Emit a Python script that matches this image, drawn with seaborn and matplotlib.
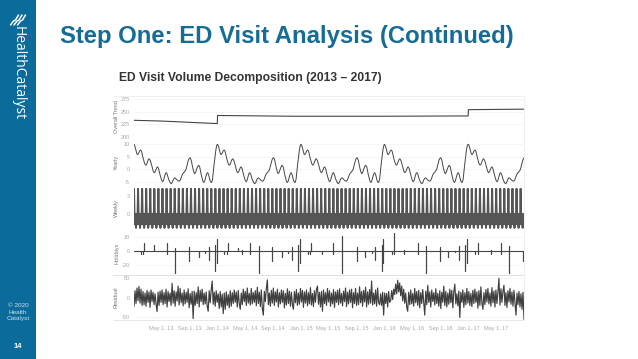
#!/usr/bin/env python3
# -*- coding: utf-8 -*-
import pandas as pd
import seaborn as sns
import matplotlib.pyplot as plt
from matplotlib.patches import Rectangle
from matplotlib.lines import Line2D

#%%
# Data. Days are counted from Jan 1 2013
trend_days = [0, 120, 364, 365, 700, 1094, 1460, 1461, 1704]
trend_vals = [233, 231.5, 226.5, 242.5, 241, 241, 241.6, 254, 255]

# days inside one year of the yearly curve, and where each year starts
year_days = [0, 4, 9, 13, 16, 20, 25, 29, 33, 40, 47, 51, 55, 60, 64, 67, 71, 78, 84, 88, 92, 97, 100, 103, 107,
             114, 121, 125, 129, 134, 138, 141, 145, 152, 159, 163, 167, 172, 177, 180, 185, 192, 198, 203, 208,
             213, 220, 227, 232, 238, 243, 246, 250, 257, 262, 265, 269, 275, 280, 283, 287, 294, 301, 305, 309,
             315, 319, 322, 326, 332, 336, 339, 343, 350, 358, 362]
year_starts = [0, 365, 730, 1095, 1461]
yearly_vals = [
    10.0, 9.2, 7.4, 6.1, 5.9, 6.4, 7.4, 7.7, 7.2, 4.4, 2.2, 1.7, 2.0, 3.3, 4.1, 4.2, 3.6, 1.4, -0.7, -1.3, -1.0, 0.1, 0.8, 1.0, 0.4,
    -2.2, -4.4, -4.9, -4.4, -2.6, -1.5, -1.3, -1.9, -4.1, -5.4, -5.7, -5.2, -4.0, -3.4, -3.4, -3.9, -4.5, -4.7, -4.1, -2.8,
    -1.7, -1.0, -0.1, 1.6, 3.8, 4.6, 4.6, 3.6, 0.5, -1.2, -1.7, -1.2, 0.4, 1.5, 1.6, 1.0, -2.2, -4.7, -5.2, -4.6,
    -2.5, -1.5, -1.3, -2.1, -4.4, -5.1, -5.2, -4.0, 2.0, 8.0, 9.7,
    10.0, 9.2, 7.4, 6.1, 5.9, 6.4, 7.4, 7.7, 7.2, 4.4, 2.2, 1.7, 2.0, 3.3, 4.1, 4.2, 3.6, 1.4, -0.7, -1.3, -1.0, 0.1, 0.8, 1.0, 0.4,
    -2.2, -4.4, -4.9, -4.4, -2.6, -1.5, -1.3, -1.9, -4.1, -5.4, -5.7, -5.2, -4.0, -3.4, -3.4, -3.9, -4.5, -4.7, -4.1, -2.8,
    -1.7, -1.0, -0.1, 1.6, 3.8, 4.6, 4.6, 3.6, 0.5, -1.2, -1.7, -1.2, 0.4, 1.5, 1.6, 1.0, -2.2, -4.7, -5.2, -4.6,
    -2.5, -1.5, -1.3, -2.1, -4.4, -5.1, -5.2, -4.0, 2.0, 8.0, 9.7,
    10.0, 9.2, 7.4, 6.1, 5.9, 6.4, 7.4, 7.7, 7.2, 4.4, 2.2, 1.7, 2.0, 3.3, 4.1, 4.2, 3.6, 1.4, -0.7, -1.3, -1.0, 0.1, 0.8, 1.0, 0.4,
    -2.2, -4.4, -4.9, -4.4, -2.6, -1.5, -1.3, -1.9, -4.1, -5.4, -5.7, -5.2, -4.0, -3.4, -3.4, -3.9, -4.5, -4.7, -4.1, -2.8,
    -1.7, -1.0, -0.1, 1.6, 3.8, 4.6, 4.6, 3.6, 0.5, -1.2, -1.7, -1.2, 0.4, 1.5, 1.6, 1.0, -2.2, -4.7, -5.2, -4.6,
    -2.5, -1.5, -1.3, -2.1, -4.4, -5.1, -5.2, -4.0, 2.0, 8.0, 9.7,
    10.0, 9.2, 7.4, 6.1, 5.9, 6.4, 7.4, 7.7, 7.2, 4.4, 2.2, 1.7, 2.0, 3.3, 4.1, 4.2, 3.6, 1.4, -0.7, -1.3, -1.0, 0.1, 0.8, 1.0, 0.4,
    -2.2, -4.4, -4.9, -4.4, -2.6, -1.5, -1.3, -1.9, -4.1, -5.4, -5.7, -5.2, -4.0, -3.4, -3.4, -3.9, -4.5, -4.7, -4.1, -2.8,
    -1.7, -1.0, -0.1, 1.6, 3.8, 4.6, 4.6, 3.6, 0.5, -1.2, -1.7, -1.2, 0.4, 1.5, 1.6, 1.0, -2.2, -4.7, -5.2, -4.6,
    -2.5, -1.5, -1.3, -2.1, -4.4, -5.1, -5.2, -4.0, 2.0, 8.0, 9.7,
    10.0, 9.2, 7.4, 6.1, 5.9, 6.4, 7.4, 7.7, 7.2, 4.4, 2.2, 1.7, 2.0, 3.3, 4.1, 4.2, 3.6, 1.4, -0.7, -1.3, -1.0, 0.1, 0.8, 1.0, 0.4,
    -2.2, -4.4, -4.9, -4.4, -2.6, -1.5, -1.3, -1.9, -4.1, -5.4, -5.7, -5.2, -4.0, -3.4, -3.4, -3.9, -4.5, -4.7, -4.1, -2.8,
    -1.7, -1.0, -0.1, 1.6, 3.8, 4.6,
]

# as many stripes as can be counted in the picture
weekly_vals = [
    4.2, -1.7, 0.0, -2.3, 0.0, -1.7, 4.2, -1.7, 0.0, -2.3, 0.0, -1.7, 4.2, -1.7, 0.0, -2.3, 0.0, -1.7, 4.2, -1.7, 0.0, -2.3, 0.0, -1.7,
    4.2, -1.7, 0.0, -2.3, 0.0, -1.7, 4.2, -1.7, 0.0, -2.3, 0.0, -1.7, 4.2, -1.7, 0.0, -2.3, 0.0, -1.7, 4.2, -1.7, 0.0, -2.3, 0.0, -1.7,
    4.2, -1.7, 0.0, -2.3, 0.0, -1.7, 4.2, -1.7, 0.0, -2.3, 0.0, -1.7, 4.2, -1.7, 0.0, -2.3, 0.0, -1.7, 4.2, -1.7, 0.0, -2.3, 0.0, -1.7,
    4.2, -1.7, 0.0, -2.3, 0.0, -1.7, 4.2, -1.7, 0.0, -2.3, 0.0, -1.7, 4.2, -1.7, 0.0, -2.3, 0.0, -1.7, 4.2, -1.7, 0.0, -2.3, 0.0, -1.7,
    4.2, -1.7, 0.0, -2.3, 0.0, -1.7, 4.2, -1.7, 0.0, -2.3, 0.0, -1.7, 4.2, -1.7, 0.0, -2.3, 0.0, -1.7, 4.2, -1.7, 0.0, -2.3, 0.0, -1.7,
    4.2, -1.7, 0.0, -2.3, 0.0, -1.7, 4.2, -1.7, 0.0, -2.3, 0.0, -1.7, 4.2, -1.7, 0.0, -2.3, 0.0, -1.7, 4.2, -1.7, 0.0, -2.3, 0.0, -1.7,
    4.2, -1.7, 0.0, -2.3, 0.0, -1.7, 4.2, -1.7, 0.0, -2.3, 0.0, -1.7, 4.2, -1.7, 0.0, -2.3, 0.0, -1.7, 4.2, -1.7, 0.0, -2.3, 0.0, -1.7,
    4.2, -1.7, 0.0, -2.3, 0.0, -1.7, 4.2, -1.7, 0.0, -2.3, 0.0, -1.7, 4.2, -1.7, 0.0, -2.3, 0.0, -1.7, 4.2, -1.7, 0.0, -2.3, 0.0, -1.7,
    4.2, -1.7, 0.0, -2.3, 0.0, -1.7, 4.2, -1.7, 0.0, -2.3, 0.0, -1.7, 4.2, -1.7, 0.0, -2.3, 0.0, -1.7, 4.2, -1.7, 0.0, -2.3, 0.0, -1.7,
    4.2, -1.7, 0.0, -2.3, 0.0, -1.7, 4.2, -1.7, 0.0, -2.3, 0.0, -1.7, 4.2, -1.7, 0.0, -2.3, 0.0, -1.7, 4.2, -1.7, 0.0, -2.3, 0.0, -1.7,
    4.2, -1.7, 0.0, -2.3, 0.0, -1.7, 4.2, -1.7, 0.0, -2.3, 0.0, -1.7, 4.2, -1.7, 0.0, -2.3, 0.0, -1.7, 4.2, -1.7, 0.0, -2.3, 0.0, -1.7,
    4.2, -1.7, 0.0, -2.3, 0.0, -1.7, 4.2, -1.7, 0.0, -2.3, 0.0, -1.7, 4.2, -1.7, 0.0, -2.3, 0.0, -1.7, 4.2, -1.7, 0.0, -2.3, 0.0, -1.7,
    4.2, -1.7, 0.0, -2.3, 0.0, -1.7, 4.2, -1.7, 0.0, -2.3, 0.0, -1.7, 4.2, -1.7, 0.0, -2.3, 0.0, -1.7, 4.2, -1.7, 0.0, -2.3, 0.0, -1.7,
    4.2, -1.7, 0.0, -2.3, 0.0, -1.7, 4.2, -1.7, 0.0, -2.3, 0.0, -1.7, 4.2, -1.7, 0.0, -2.3, 0.0, -1.7, 4.2, -1.7, 0.0, -2.3, 0.0, -1.7,
    4.2, -1.7, 0.0, -2.3, 0.0, -1.7, 4.2, -1.7, 0.0, -2.3, 0.0, -1.7, 4.2, -1.7, 0.0, -2.3, 0.0, -1.7, 4.2, -1.7, 0.0, -2.3, 0.0, -1.7,
    4.2, -1.7, 0.0, -2.3, 0.0, -1.7, 4.2, -1.7, 0.0, -2.3, 0.0, -1.7, 4.2, -1.7, 0.0, -2.3, 0.0, -1.7, 4.2, -1.7, 0.0, -2.3, 0.0, -1.7,
    4.2, -1.7, 0.0, -2.3, 0.0, -1.7, 4.2, -1.7, 0.0, -2.3, 0.0, -1.7, 4.2, -1.7, 0.0, -2.3, 0.0, -1.7, 4.2, -1.7, 0.0, -2.3, 0.0, -1.7,
    4.2, -1.7, 0.0, -2.3, 0.0, -1.7, 4.2, -1.7, 0.0, -2.3, 0.0, -1.7, 4.2, -1.7, 0.0, -2.3, 0.0, -1.7, 4.2, -1.7, 0.0, -2.3, 0.0, -1.7,
    4.2, -1.7, 0.0, -2.3, 0.0, -1.7, 4.2, -1.7, 0.0, -2.3, 0.0, -1.7, 4.2, -1.7, 0.0, -2.3, 0.0, -1.7, 4.2, -1.7, 0.0, -2.3, 0.0, -1.7,
    4.2, -1.7, 0.0, -2.3, 0.0, -1.7, 4.2, -1.7, 0.0, -2.3, 0.0, -1.7, 4.2, -1.7, 0.0, -2.3, 0.0, -1.7, 4.2, -1.7, 0.0, -2.3, 0.0, -1.7,
    4.2, -1.7, 0.0, -2.3, 0.0, -1.7, 4.2, -1.7, 0.0, -2.3, 0.0, -1.7, 4.2, -1.7, 0.0, -2.3, 0.0, -1.7, 4.2, -1.7, 0.0, -2.3, 0.0, -1.7,
    4.2, -1.7, 0.0, -2.3, 0.0, -1.7, 4.2, -1.7, 0.0, -2.3, 0.0, -1.7, 4.2, -1.7, 0.0, -2.3, 0.0, -1.7, 4.2, -1.7, 0.0, -2.3, 0.0, -1.7,
    4.2, -1.7, 0.0, -2.3, 0.0, -1.7, 4.2, -1.7, 0.0, -2.3, 0.0, -1.7, 4.2, -1.7, 0.0, -2.3, 0.0, -1.7, 4.2, -1.7, 0.0, -2.3, 0.0, -1.7,
    4.2, -1.7, 0.0, -2.3, 0.0, -1.7, 4.2, -1.7, 0.0, -2.3, 0.0, -1.7, 4.2, -1.7, 0.0, -2.3, 0.0, -1.7, 4.2, -1.7, 0.0, -2.3, 0.0, -1.7,
]

holiday_days = [32, 38, 45, 89, 144, 180, 241, 283, 311, 329, 355, 362, 395, 407, 410, 454, 471, 507, 547, 605,
                647, 675, 690, 718, 725, 759, 770, 773, 821, 869, 910, 975, 1010, 1039, 1055, 1083, 1090, 1128, 1135, 1178,
                1242, 1275, 1336, 1339, 1374, 1404, 1419, 1448, 1455, 1489, 1503, 1505, 1561, 1603, 1640, 1698]
holiday_high = [0, 0, 11, 9, 12, 5, 6, 0, 0, 6, 9, 17, 0, 0, 11, 5, 2, 12, 7, 6,
                0, 0, 6, 9, 17, 0, 0, 11, 0, 11, 21, 6, 0, 0, 6, 9, 17, 0, 26, 2,
                11, 7, 0, 6, 0, 0, 7, 9, 17, 0, 0, 11, 2, 11, 7, 0]
holiday_low = [-5, -5, 0, 0, -4, -32, -14, -8, -3, -13, -29, -18, -5, -5, 0, 0, -5, -4, -32, -14,
               -8, -3, -13, -29, -17, -5, -5, 0, -5, -4, -32, -14, -8, -3, -13, -29, -17, -4, -4, -4,
               -4, -32, -14, 0, -8, -2, -13, -29, -17, -4, -4, 0, -4, -4, -32, -14]

residual_vals = [
    -23, 18, -15, 25, -8, 29, -14, 22, -20, 16, -18, 12, -22, 19, -12, 15, -25, 20, -10, 14,
    -18, 10, -16, -36, 14, -20, 17, -12, 20, -18, 13, -15, 22, -24, 16, -10, 12, -20, 37, -14,
    18, -22, 15, -9, 30, -19, 24, -13, 12, -21, 20, -16, 14, -12, 23, -26, 11, -17, 16, -54,
    17, -20, 13, -15, 28, -24, 19, -10, 22, -18, 12, -16, 15, -22, -35, 18, -13, 20, 43, -17,
    14, -22, 18, -12, 10, -28, 16, -24, 9, -41, 12, -30, 15, -20, 8, -26, 18, -22, 13, -15,
    20, -12, 15, -24, 19, -16, -30, 12, -18, 22, -10, 16, -20, 25, -14, 11, -19, 24, -16, 13,
    -12, 18, -21, 27, -15, 14, -23, 20, -28, -45, 16, -10, 24, 46, -18, 12, -22, 19, -14, 25,
    -20, 15, -11, 22, -24, 13, -16, 20, -12, 18, -26, 11, -19, 23, -15, 17, -22, 14, -18, -30,
    16, -13, 21, -20, 12, -17, 24, -11, 19, -25, 15, -14, 20, -21, 13, -16, 26, -19, 11, -23,
    18, -12, 22, 30, -17, 14, -24, 16, -35, 20, -15, 13, -20, 24, -11, 18, -22, 12, -16, 21,
    -25, 15, -12, 19, -18, 23, -14, 11, -21, 17, -10, 25, -23, 14, -16, 20, -12, 22, -26, 13,
    -15, 24, -20, 12, -18, 28, -13, 16, -22, 19, -11, 27, -24, 15, -17, 21, -14, 43, -19, 12,
    -16, 20, -22, 25, -13, -18, 10, -20, 14, -45, 12, -15, 11, -24, 16, -12, -8, 18, -5, 22,
    8, 35, 10, 45, 15, 38, 5, 30, -8, 22, -14, 12, -25, -35, 14, -18, 20, -16, 11, -22,
    24, -13, 16, -20, 19, -26, 13, -15, 21, -11, -45, 17, -18, 32, -12, 15, -24, 20, -10, 13,
    -19, 23, -15, 11, -22, 18, -28, 14, -12, 30, -20, 16, -24, 12, -17, 22, -13, 19, -26, 15,
    35, -16, 10, -21, 17, -51, 14, -12, 20, -25, 13, -18, 24, -14, 16, -20, 11, -23, 19, -15,
    22, -12, 15, -27, 18, -20, 28, -14, -30, 13, -18, 21, -11, 24, -16, 12, -22, 26, -13, 17,
    -24, 20, -15, 14, 50, -19, 23, -12, 16, 32, -20, 13, -25, 18, -11, 24, -17, 15, -22, 19,
    -14, -45, 12, -18, 16, -24, 10, -30, 14, -56,
]

x_ticks = ['2013-05-01', '2013-09-01', '2014-01-01', '2014-05-01', '2014-09-01', '2015-01-01', '2015-05-01',
           '2015-09-01', '2016-01-01', '2016-05-01', '2016-09-01', '2017-01-01', '2017-05-01']
x_labels = ['May 1, 13', 'Sep 1, 13', 'Jan 1, 14', 'May 1, 14', 'Sep 1, 14', 'Jan 1, 15', 'May 1, 15',
            'Sep 1, 15', 'Jan 1, 16', 'May 1, 16', 'Sep 1, 16', 'Jan 1, 17', 'May 1, 17']

#%%
# Style
sns.set_theme(style='white')
plt.rcParams['font.family'] = ['Liberation Sans', 'DejaVu Sans']
W, H = 638, 359
start = pd.Timestamp('2013-01-01')
end = pd.Timestamp('2017-09-01')
line_col = '#454545'
tick_col = '#a8a8a8'
label_col = '#777777'
blue = '#0b6b9a'


def to_dates(days):
    return start + pd.to_timedelta(days, unit='D')


def panel(y_top, y_bot, ylim, ticks, tick_text, name):
    # axes placed by slide pixels
    ax = fig.add_axes([134 / W, 1 - y_bot / H, 390 / W, (y_bot - y_top) / H])
    ax.set_xlim(start, end)
    ax.set_ylim(*ylim)
    ax.set_yticks(ticks, tick_text)
    ax.set_xticks([])
    ax.tick_params(axis='y', length=0, pad=3, labelsize=4, labelcolor=tick_col)
    ax.grid(axis='y', color='#f2f2f2', lw=0.5)
    ax.set_axisbelow(True)
    ax.patch.set_alpha(0)
    sns.despine(ax=ax, left=True, bottom=True)
    ax.set_ylabel(name, fontsize=4, color=label_col)
    ax.yaxis.set_label_coords(-15 / 390, 0.5)
    return ax


fig = plt.figure(figsize=(W / 100, H / 100), dpi=100, facecolor='white')

#%%
# Slide furniture
fig.add_artist(Rectangle((0, 0), 36 / W, 1, transform=fig.transFigure, color=blue, lw=0))
fig.text(60 / W, 1 - 36 / H, 'Step One: ED Visit Analysis (Continued)', fontsize=17.2, fontweight='bold',
         color='#156c94', va='center', ha='left')
fig.text(119 / W, 1 - 78 / H, 'ED Visit Volume Decomposition (2013 – 2017)', fontsize=8.7, fontweight='bold',
         color='#333333', va='center', ha='left')
fig.text(18 / W, 1 - 73 / H, 'HealthCatalyst', fontsize=10, color='white', rotation=270, va='center', ha='center',
         family=['Open Sans', 'DejaVu Sans'])
for off in [-3.5, 0, 3.5]:
    fig.add_artist(Line2D([(14 + off) / W, (17 + off) / W, (19 + off) / W, (22 + off) / W],
                          [1 - 25 / H, 1 - 21 / H, 1 - 20 / H, 1 - 15 / H], color='white', lw=1.1,
                          transform=fig.transFigure))
fig.text(18 / W, 1 - 312 / H, '© 2020\nHealth\nCatalyst', fontsize=4.6, color='#cfe3ee', ha='center', va='center',
         linespacing=1.45)
fig.text(18 / W, 1 - 347 / H, '14', fontsize=5.5, fontweight='bold', color='white', ha='center', va='center')
for y0, col in [(96, '#eeeeee'), (275, '#dddddd'), (320, '#e4e4e4')]:
    fig.add_artist(Line2D([113 / W, 524 / W], [1 - y0 / H, 1 - y0 / H], color=col, lw=0.6, transform=fig.transFigure))
fig.add_artist(Line2D([524 / W, 524 / W], [1 - 96 / H, 1 - 320 / H], color='#eeeeee', lw=0.6, transform=fig.transFigure))

#%%
# Panels
ax1 = panel(96, 137, (200, 281), [200, 225, 250, 275], ['200', '225', '250', '275'], 'Overall Trend')
sns.lineplot(x=to_dates(trend_days), y=trend_vals, ax=ax1, color=line_col, lw=0.8, estimator=None)

ax2 = panel(137, 187, (-7, 12.9), [-5, 0, 5, 10], ['-5', '0', '5', '10'], 'Yearly')
yearly_days = [s + d for s in year_starts for d in year_days][:len(yearly_vals)]
sns.lineplot(x=to_dates(yearly_days), y=yearly_vals, ax=ax2, color=line_col, lw=0.7, estimator=None)

ax3 = panel(187.5, 228.5, (-2.4, 4.4), [0, 3], ['0', '3'], 'Weekly')
weekly_x = pd.date_range(start, end, periods=len(weekly_vals))
sns.lineplot(x=weekly_x, y=weekly_vals, ax=ax3, color='#555555', lw=1.4, estimator=None)

ax4 = panel(232, 275, (-34.8, 27.5), [-20, 0, 20], ['-20', '0', '20'], 'Holidays')
hol_x, hol_y = [0], [0]
for d, hi, lo in zip(holiday_days, holiday_high, holiday_low):
    hol_x += [d, d, d, d]
    hol_y += [0, hi, lo, 0]
hol_x.append(1704)
hol_y.append(0)
sns.lineplot(x=to_dates(hol_x), y=hol_y, ax=ax4, color=line_col, lw=0.8, estimator=None, sort=False)

ax5 = panel(275, 320, (-57.6, 58.6), [-50, 0, 50], ['-50', '0', '50'], 'Residual')
residual_x = pd.date_range(start, end, periods=len(residual_vals))
sns.lineplot(x=residual_x, y=residual_vals, ax=ax5, color='#3f3f3f', lw=0.85, estimator=None)
ax5.set_xticks(pd.to_datetime(x_ticks), x_labels)
ax5.tick_params(axis='x', length=0, pad=7, labelsize=4, labelcolor=tick_col)
for t in ax5.get_xticklabels():
    t.set_verticalalignment('baseline')

fig.savefig('out.png', dpi=100)
